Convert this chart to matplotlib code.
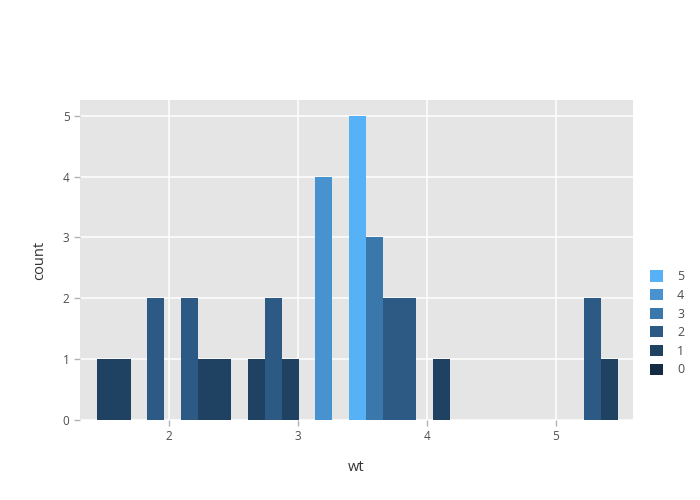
import matplotlib.pyplot as plt
from matplotlib.patches import Patch

plt.rcParams['font.family'] = ['Open Sans', 'DejaVu Sans']

# histogram bins (left edge of first bin, bin width)
bin_start = 1.442
bin_width = 0.1302
counts = [1, 1, 0, 2, 0, 2, 1, 1, 0, 1, 2, 1, 0, 4, 0, 5, 3, 2, 2, 0,
          1, 0, 0, 0, 0, 0, 0, 0, 0, 2, 1]

# fill colour for each count level
levels = [5, 4, 3, 2, 1, 0]
level_colors = {
    0: '#132B43',
    1: '#1F4263',
    2: '#2C5A85',
    3: '#3A77AA',
    4: '#4892D0',
    5: '#56B1F7',
}

fig = plt.figure(figsize=(7, 5), dpi=100)
ax = fig.add_axes([80 / 700, 80 / 500, 553 / 700, 320 / 500])
ax.set_facecolor('#E5E5E5')

lefts = [bin_start + i * bin_width for i in range(len(counts))]
for x, c in zip(lefts, counts):
    if c > 0:
        ax.bar(x, c, width=bin_width, align='edge', color=level_colors[c],
               linewidth=0, zorder=2)

ax.set_xlim(1.310, 5.597)
ax.set_ylim(0, 5.26)
ax.set_xticks([2, 3, 4, 5])
ax.set_yticks([0, 1, 2, 3, 4, 5])
ax.grid(True, color='white', linewidth=1.1, zorder=1)
ax.set_axisbelow(True)
for s in ax.spines.values():
    s.set_visible(False)
ax.tick_params(axis='both', colors='#B3B3B3', labelcolor='#4D4D4D',
               labelsize=8.5, length=4, width=1)
ax.set_xlabel('wt', fontsize=10.5, color='#333333', labelpad=12)
ax.set_ylabel('count', fontsize=10.5, color='#333333', labelpad=11)

handles = [Patch(facecolor=level_colors[l], edgecolor='none', label=str(l))
           for l in levels]
fig.legend(handles=handles, loc='upper left',
           bbox_to_anchor=(639 / 700, 1 - 259 / 500), frameon=False,
           fontsize=9, handlelength=1.0, handleheight=1.0,
           handletextpad=1.15, labelspacing=0.45, labelcolor='#4D4D4D')

fig.savefig('out.png', dpi=100)
